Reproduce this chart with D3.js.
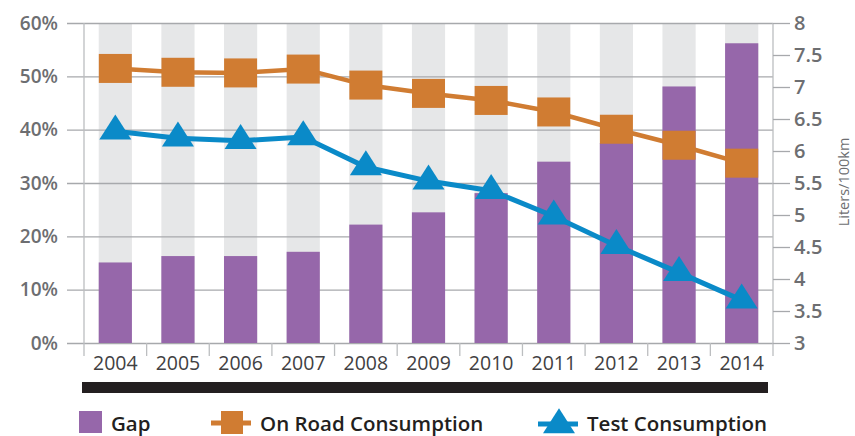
<!DOCTYPE html>
<html lang="en">
<head>
    <meta charset="UTF-8">
    <title>Gap between test and on-road consumption</title>
    <script src="https://d3js.org/d3.v7.min.js"></script>
    <style>
        body { margin: 0; background: #fff; }
        text { font-family: "Open Sans", sans-serif; }
    </style>
</head>
<body>
    <div id="chart"></div>
    <script>
        // data
        var years = ["2004", "2005", "2006", "2007", "2008", "2009", "2010", "2011", "2012", "2013", "2014"];
        var gap = [15.1, 16.3, 16.3, 17.1, 22.2, 24.5, 28.1, 34.0, 37.5, 48.1, 56.2];          // %
        var onRoad = [7.29, 7.23, 7.22, 7.28, 7.03, 6.90, 6.79, 6.61, 6.34, 6.09, 5.81];       // L/100km
        var test = [6.31, 6.20, 6.16, 6.22, 5.75, 5.53, 5.38, 4.98, 4.52, 4.10, 3.67];         // L/100km
        var leftTicks = [0, 10, 20, 30, 40, 50, 60];
        var rightTicks = [3, 3.5, 4, 4.5, 5, 5.5, 6, 6.5, 7, 7.5, 8];

        var W = 855, H = 436;
        var m = { left: 84, right: 773, top: 23, bottom: 343 };

        var svg = d3.select("#chart").append("svg")
            .attr("width", W)
            .attr("height", H);

        // scales
        var xStep = d3.scaleBand().domain(years).range([m.left, m.right]).padding(0);
        var x = d3.scaleBand().domain(years).range([m.left, m.right])
            .paddingInner(0.47).paddingOuter(0.235);
        var yL = d3.scaleLinear().domain([0, 60]).range([m.bottom, m.top]);
        var yR = d3.scaleLinear().domain([3, 8]).range([m.bottom, m.top]);

        // grey column backgrounds
        svg.selectAll(".col").data(years).enter().append("rect")
            .attr("x", function (d) { return x(d); })
            .attr("width", x.bandwidth())
            .attr("y", yL(60))
            .attr("height", yL(0) - yL(60))
            .attr("fill", "#e6e7e8");

        // horizontal gridlines (left axis)
        svg.append("g")
            .attr("transform", "translate(" + m.left + ",0)")
            .call(d3.axisLeft(yL).tickValues(leftTicks).tickSize(17)
                .tickFormat(function (d) { return d + "%"; }))
            .call(function (g) {
                g.select(".domain").remove();
                g.selectAll(".tick line").attr("x1", -17).attr("x2", m.right - m.left)
                    .attr("stroke", "#a7a9ac").attr("stroke-width", 1.3);
                g.selectAll(".tick text").attr("x", -26)
                    .attr("fill", "#6d6e71").style("font-size", "19px").style("font-weight", 600)
                    .style("font-family", "Open Sans");
            });

        // gap bars
        svg.selectAll(".bar").data(gap).enter().append("rect")
            .attr("x", function (d, i) { return x(years[i]); })
            .attr("width", x.bandwidth())
            .attr("y", function (d) { return yL(d); })
            .attr("height", function (d) { return yL(0) - yL(d); })
            .attr("fill", "#9667aa");

        // axis lines
        svg.append("line").attr("x1", m.left).attr("x2", m.left).attr("y1", m.top).attr("y2", m.bottom + 13)
            .attr("stroke", "#bcbec0").attr("stroke-width", 1.3);
        svg.append("line").attr("x1", m.right).attr("x2", m.right).attr("y1", m.top).attr("y2", m.bottom + 13)
            .attr("stroke", "#bcbec0").attr("stroke-width", 1.3);

        // x axis: ticks at column boundaries, labels centred
        svg.selectAll(".xtick").data(years.slice(1)).enter().append("line")
            .attr("x1", function (d) { return xStep(d); })
            .attr("x2", function (d) { return xStep(d); })
            .attr("y1", m.bottom).attr("y2", m.bottom + 13)
            .attr("stroke", "#bcbec0").attr("stroke-width", 1.3);
        svg.append("g")
            .attr("transform", "translate(0," + m.bottom + ")")
            .call(d3.axisBottom(xStep).tickSize(0).tickPadding(13))
            .call(function (g) {
                g.select(".domain").remove();
                g.selectAll(".tick text").attr("fill", "#414042")
                    .style("font-size", "19.5px").style("font-family", "Open Sans");
            });

        // right axis
        svg.append("g")
            .attr("transform", "translate(" + m.right + ",0)")
            .call(d3.axisRight(yR).tickValues(rightTicks).tickSize(17).tickPadding(4)
                .tickFormat(function (d) { return String(d); }))
            .call(function (g) {
                g.select(".domain").remove();
                g.selectAll(".tick line").attr("stroke", "#a7a9ac").attr("stroke-width", 1.3);
                g.selectAll(".tick text").attr("fill", "#6d6e71")
                    .style("font-size", "20px").style("font-weight", 600)
                    .style("font-family", "Open Sans");
            });
        svg.append("text")
            .attr("transform", "translate(849,182) rotate(-90)")
            .attr("text-anchor", "middle")
            .attr("fill", "#6d6e71")
            .style("font-size", "14.5px")
            .text("Liters/100km");

        // lines
        var cx = function (d, i) { return x(years[i]) + x.bandwidth() / 2; };
        var line = d3.line().x(cx).y(function (d) { return yR(d); });

        var orange = "#d07c32", blue = "#0a8ac8";
        var triPath = "M0,-16.7L16,8.3L-16,8.3Z";

        svg.append("path").datum(onRoad).attr("d", line)
            .attr("fill", "none").attr("stroke", orange).attr("stroke-width", 4.5);
        svg.selectAll(".sq").data(onRoad).enter().append("rect")
            .attr("x", function (d, i) { return cx(d, i) - 16.5; })
            .attr("y", function (d) { return yR(d) - 14.5; })
            .attr("width", 33).attr("height", 29)
            .attr("fill", orange);

        svg.append("path").datum(test).attr("d", line)
            .attr("fill", "none").attr("stroke", blue).attr("stroke-width", 5);
        svg.selectAll(".tri").data(test).enter().append("path")
            .attr("d", triPath)
            .attr("transform", function (d, i) { return "translate(" + cx(d, i) + "," + yR(d) + ")"; })
            .attr("fill", blue);

        // black rule under the axis
        svg.append("rect").attr("x", 82).attr("y", 382).attr("width", 686).attr("height", 11)
            .attr("fill", "#231f20");

        // legend
        var lg = svg.append("g").style("font-size", "20.5px").style("font-weight", 600).attr("fill", "#231f20");
        lg.append("rect").attr("x", 79).attr("y", 411).attr("width", 23).attr("height", 22).attr("fill", "#9667aa");
        lg.append("text").attr("x", 111).attr("y", 431).text("Gap");

        lg.append("line").attr("x1", 211).attr("x2", 251).attr("y1", 423).attr("y2", 423)
            .attr("stroke", orange).attr("stroke-width", 5);
        lg.append("rect").attr("x", 221).attr("y", 411).attr("width", 22).attr("height", 23).attr("fill", orange);
        lg.append("text").attr("x", 260).attr("y", 431).text("On Road Consumption");

        lg.append("line").attr("x1", 538).attr("x2", 578).attr("y1", 424).attr("y2", 424)
            .attr("stroke", blue).attr("stroke-width", 5);
        lg.append("path").attr("d", triPath).attr("transform", "translate(559,425)").attr("fill", blue);
        lg.append("text").attr("x", 587).attr("y", 431).text("Test Consumption");
    </script>
</body>
</html>
